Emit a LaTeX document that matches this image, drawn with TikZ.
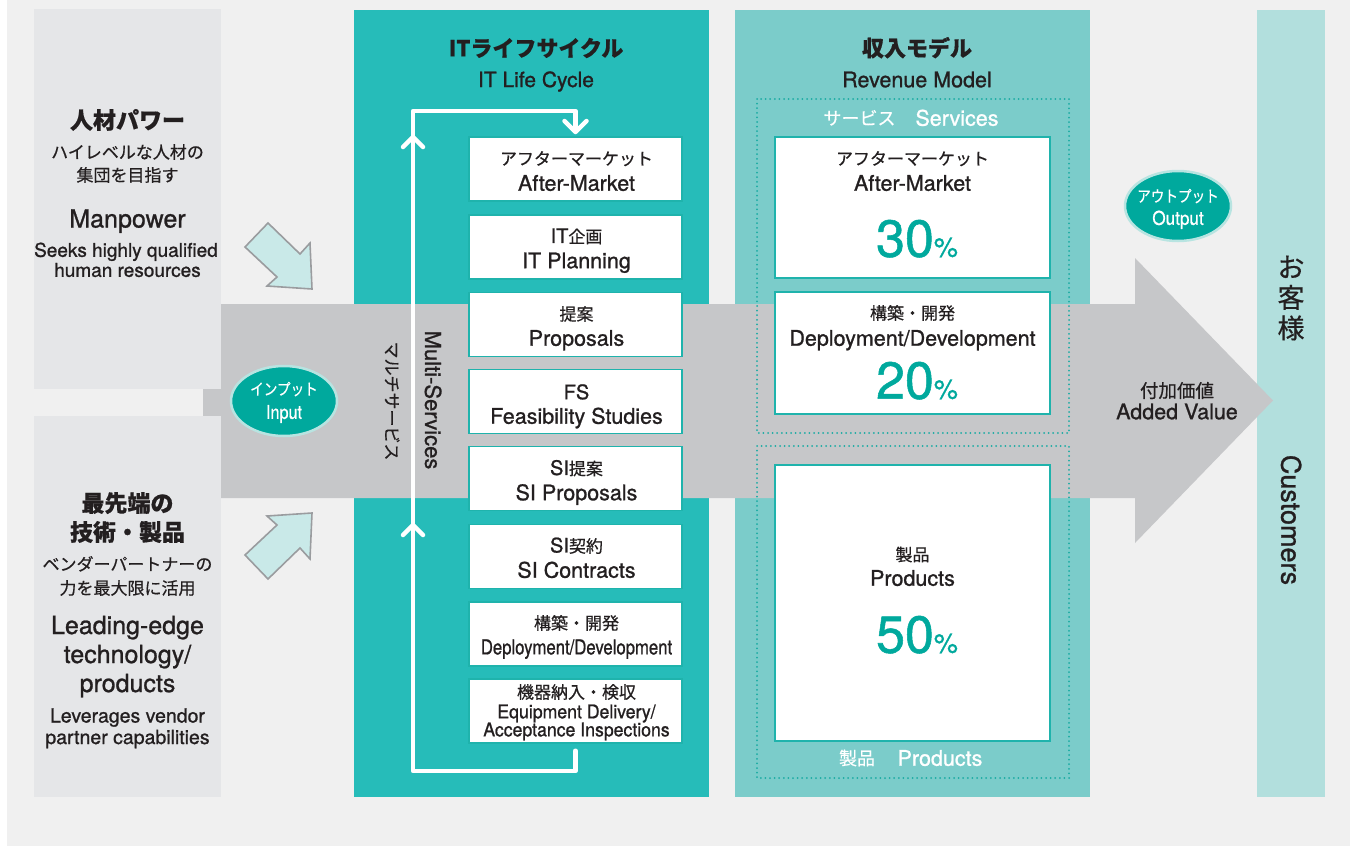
\documentclass[tikz,border=0pt]{standalone}
\usepackage{fontspec}
\usepackage{graphicx}
\setmainfont{TeX Gyre Heros}[FakeBold=1.0]
\newfontfamily\jp{Noto Sans CJK JP}[FakeBold=0.5]
\usetikzlibrary{shapes.geometric}
\definecolor{bgc}{HTML}{F0F0F0}
\definecolor{leftc}{HTML}{E5E6E8}
\definecolor{grayarr}{HTML}{C6C7C9}
\definecolor{tealA}{HTML}{26BCB9}
\definecolor{tealB}{HTML}{7BCCCA}
\definecolor{custc}{HTML}{B2DFDD}
\definecolor{edgec}{HTML}{1FB3AC}
\definecolor{pct}{HTML}{00A99D}
\definecolor{dotc}{HTML}{1AABA3}
\definecolor{ellf}{HTML}{00A99D}
\definecolor{ellb}{HTML}{B8E4E1}
\definecolor{cfill}{HTML}{C9E9E8}
\definecolor{cstroke}{HTML}{9A9C9F}
\definecolor{ink}{HTML}{231F20}
\newcommand\fsz[1]{\fontsize{#1}{#1}\selectfont}
\tikzset{
  L/.style={inner sep=0pt, text=ink, text height=0.72*#1pt, text depth=0pt, font=\fontsize{#1}{#1}\selectfont},
  J/.style={inner sep=0pt, text=ink, text height=0.76*#1pt, text depth=0pt, font=\jp\fontsize{#1}{#1}\selectfont},
  JB/.style={inner sep=0pt, text=ink, text height=0.76*#1pt, text depth=0pt, font=\jp\bfseries\fontsize{#1}{#1}\selectfont},
  lcbox/.style={draw=edgec, fill=white, line width=1.5pt, minimum width=213pt, minimum height=64pt, inner sep=0pt},
  rbox/.style={draw=edgec, fill=white, line width=1.5pt, minimum width=275pt, inner sep=0pt},
  dotline/.style={draw=dotc, line width=2pt, line cap=round, dash pattern=on 0pt off 4.6pt},
  cyc/.style={draw=white, line width=4.5pt, line cap=round, line join=round},
  ell/.style={ellipse, fill=ellf, draw=ellb, line width=2.5pt, minimum width=106pt, minimum height=70pt, inner sep=0pt},
  carrow/.style={fill=cfill, draw=cstroke, line width=1.6pt, line join=miter},
  pcnt/.style={inner sep=0pt, text=pct, text height=0.72*52pt, text depth=0pt, font=\fontsize{52}{52}\selectfont}
}
\begin{document}
\begin{tikzpicture}[x=1pt,y=-1pt]
\useasboundingbox (0,0) rectangle (1350,846);
\fill[white] (0,0) rectangle (1350,846);
\fill[bgc] (7,0) rectangle (1350,846);
% panels
\fill[tealA] (354,10) rectangle (709,797);
\fill[tealB] (735,10) rectangle (1090,797);
\fill[custc] (1257,10) rectangle (1325,797);
% big gray arrow
\fill[grayarr] (203,304) -- (1135,304) -- (1135,258) -- (1273,400.5) -- (1135,543) -- (1135,498) -- (203,498) -- cycle;
% left boxes
\fill[leftc] (34,9) rectangle (221,389);
\fill[leftc] (34,416) rectangle (221,797);
% light cyan arrows
\filldraw[carrow] (245,247) -- (268,223) -- (300,254) -- (310,243) -- (312,289) -- (267,286) -- (277,277) -- cycle;
\filldraw[carrow] (245,555) -- (268,579) -- (300,548) -- (310,559) -- (312,513) -- (267,516) -- (277,525) -- cycle;
% left texts
\node[JB=23] at (127.5,120) {人材パワー};
\node[J=17] at (127.5,152) {ハイレベルな人材の};
\node[J=17] at (127.5,175) {集団を目指す};
\node[L=25] at (127.5,218.5) {Manpower};
\node[L=19] at (126,250) {Seeks highly qualified};
\node[L=19] at (127.5,270) {human resources};
\node[JB=23] at (127.5,503) {最先端の};
\node[JB=23] at (127.5,532) {技術・製品};
\node[J=17] at (127.5,564) {ベンダーパートナーの};
\node[J=17] at (127.5,588) {力を最大限に活用};
\node[L=25] at (127.5,625) {Leading-edge};
\node[L=25] at (127.5,654) {technology/};
\node[L=25] at (127.5,683) {products};
\node[L=19.5] at (127.5,715.5) {Leverages vendor};
\node[L=19.5] at (127.5,737) {partner capabilities};
% headers
\node[JB=22] at (536,48) {ITライフサイクル};
\node[L=21] at (536,79.5) {IT Life Cycle};
\node[JB=22] at (917,48) {収入モデル};
\node[L=21.5] at (917,79.5) {Revenue Model};
% lifecycle boxes
\node[lcbox] (b1) at (575.5,169) {};
\node[lcbox] (b2) at (575.5,247) {};
\node[lcbox] (b3) at (575.5,324.5) {};
\node[lcbox] (b4) at (575.5,401.5) {};
\node[lcbox] (b5) at (575.5,478.5) {};
\node[lcbox] (b6) at (575.5,556.5) {};
\node[lcbox] (b7) at (575.5,634) {};
\node[lcbox] (b8) at (575.5,711) {};
\node[J=17] at (576.5,158.5) {アフターマーケット};
\node[L=21.5] at (576.5,183) {After-Market};
\node[J=17] at (576.5,236.5) {{\rmfamily\fsz{20}IT}企画};
\node[L=21.5] at (576.5,260.5) {IT Planning};
\node[J=17] at (576.5,314) {提案};
\node[L=21.5] at (576.5,338) {Proposals};
\node[L=20] at (576.5,392) {FS};
\node[L=21.5] at (576.5,416) {Feasibility Studies};
\node[J=17] at (576.5,468.5) {{\rmfamily\fsz{20}SI}提案};
\node[L=21.5] at (576.5,492.5) {SI Proposals};
\node[J=17] at (576.5,546) {{\rmfamily\fsz{20}SI}契約};
\node[L=21.5] at (576.5,570) {SI Contracts};
\node[J=17] at (576.5,623) {構築・開発};
\node[L=20.5] at (576.5,647) {\scalebox{0.815}[1]{Deployment/Development}};
\node[J=17] at (576.5,692) {機器納入・検収};
\node[L=19] at (576.5,711.5) {\scalebox{0.93}[1]{Equipment Delivery/}};
\node[L=19] at (576.5,729.5) {\scalebox{0.93}[1]{Acceptance Inspections}};
% cycle line
\coordinate (cyA) at (575.5,771);
\coordinate (cyB) at (413,771);
\coordinate (cyC) at (413,111);
\coordinate (cyD) at (575.5,111);
\draw[cyc] ([yshift=-7pt]b8.south) -- (cyA) -- (cyB) -- (cyC) -- (cyD) -- ([yshift=5pt]b1.north);
\draw[cyc] (564.5,121) -- (575.5,132) -- (586.5,121);
\draw[cyc] (403,147) -- (413,137) -- (423,147);
\draw[cyc] (403,535) -- (413,525) -- (423,535);
% vertical labels
\node[J=17, rotate=-90] at (392,401) {マルチサービス};
\node[L=22, rotate=-90] at (433,400) {Multi-Services};
% revenue model
\draw[dotline] (757,99) rectangle (1069,433);
\draw[dotline] (757,446) rectangle (1069,778);
\node[J=18, text=white] at (859.5,118) {サービス};
\node[L=21.5, text=white] at (957,118) {Services};
\node[J=18, text=white] at (857,758) {製品};
\node[L=21.5, text=white] at (940,758) {Products};
\node[rbox, minimum height=141pt] (r1) at (912.5,207.5) {};
\node[rbox, minimum height=122pt] (r2) at (912.5,353) {};
\node[rbox, minimum height=276pt] (r3) at (912.5,603) {};
\node[J=17] at (912.5,158.5) {アフターマーケット};
\node[L=21.5] at (912.5,183) {After-Market};
\node[pcnt] at (917,238) {30{\fsz{27}\%}};
\node[J=17] at (912.5,313) {構築・開発};
\node[L=21.5] at (912.5,338) {Deployment/Development};
\node[pcnt] at (917,380) {20{\fsz{27}\%}};
\node[J=17] at (912.5,554.5) {製品};
\node[L=21.5] at (912.5,578) {Products};
\node[pcnt] at (917,634) {50{\fsz{27}\%}};
% input / output
\node[ell] (inp) at (284,401) {};
\node[J=16, text=white] at (284,389) {\scalebox{0.85}[1]{インプット}};
\node[L=19, text=white] at (284,412) {\scalebox{0.85}[1]{Input}};
\node[ell] (outp) at (1178,206) {};
\node[J=16, text=white] at (1178,196) {\scalebox{0.85}[1]{アウトプット}};
\node[L=19, text=white] at (1178,218) {\scalebox{0.9}[1]{Output}};
% added value
\node[J=18.5] at (1177,390.5) {付加価値};
\node[L=21.5] at (1177,411.5) {Added Value};
% customers
\node[inner sep=0pt, text=ink, font=\jp\fontsize{27}{30.5}\selectfont, align=center] at (1291,298) {お\\客\\様};
\node[L=27, rotate=-90] at (1291,520) {Customers};
\end{tikzpicture}
\end{document}
